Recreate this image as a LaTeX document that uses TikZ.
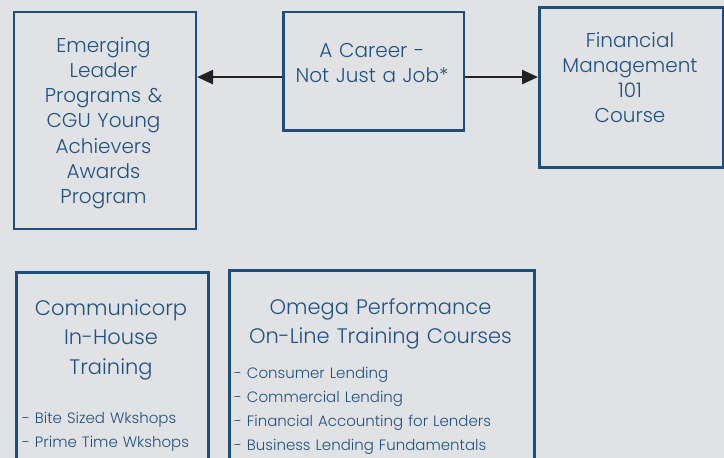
\documentclass[tikz,border=0pt]{standalone}
\usepackage{fontspec}
\setmainfont{Poppins}[UprightFont=* Light]
\usetikzlibrary{arrows.meta}

\definecolor{pagegray}{RGB}{225,226,228}
\definecolor{frameblue}{RGB}{28,78,130}
\definecolor{textblue}{RGB}{30,82,132}
\definecolor{arrowgray}{RGB}{35,32,33}

\begin{document}
\begin{tikzpicture}
  [x=1pt,y=-1pt,
   % Styles
   box/.style={draw=frameblue,line width=2.6pt,inner sep=0pt,anchor=north west},
   heading/.style={text=textblue,text width=176pt,align=center,anchor=base,
     inner sep=0pt,font=\fontsize{20}{25.3}\selectfont},
   big heading/.style={heading,text width=290pt,font=\fontsize{21}{29.5}\selectfont},
   item list/.style={text=textblue,text width=290pt,align=left,anchor=base west,
     inner sep=0pt,font=\fontsize{15}{24}\selectfont},
   link/.style={arrowgray,line width=2.6pt,-{Triangle[length=16pt,width=14pt]}}]

  % Page
  \fill[pagegray] (0,0) rectangle (724,458);
  \useasboundingbox (0,0) rectangle (724,458);
  \clip (0,0) rectangle (724,458);

  % Top row
  \node[box,minimum width=182pt,minimum height=217pt] (emerging) at (12.5,10.5) {};
  \node[box,minimum width=180.5pt,minimum height=118.5pt] (career) at (282,10.5) {};
  \node[box,minimum width=184pt,minimum height=160pt] (finance) at (538,6) {};

  \node[heading] (emerging text) at (103.5,52)
    {Emerging\\Leader\\Programs \&\\CGU Young\\Achievers\\Awards\\Program};
  \node[heading] (career text) at (372,57) {A Career -\\Not Just a Job*};
  \node[heading] (finance text) at (630,47) {Financial\\Management\\101\\Course};

  \draw[link] ([yshift=-6pt]career.west) -- ([yshift=-6pt]career.west -| emerging.east);
  \draw[link] ([yshift=-6pt]career.east) -- ([yshift=-6pt]career.east -| finance.west);

  % Bottom row
  \node[box,minimum width=192pt,minimum height=200pt] (communicorp) at (15,271) {};
  \node[box,minimum width=305pt,minimum height=200pt] (omega) at (228,269) {};

  \node[big heading] (communicorp text) at (111,315) {Communicorp\\In-House\\Training};
  \node[item list] (communicorp list) at (22,423)
    {- Bite Sized Wkshops\\- Prime Time Wkshops};

  \node[big heading] (omega text) at (380.5,314)
    {Omega Performance\\On-Line Training Courses};
  \node[item list] (omega list) at (234,378)
    {- Consumer Lending\\- Commercial Lending\\- Financial Accounting for Lenders\\- Business Lending Fundamentals};
\end{tikzpicture}
\end{document}
